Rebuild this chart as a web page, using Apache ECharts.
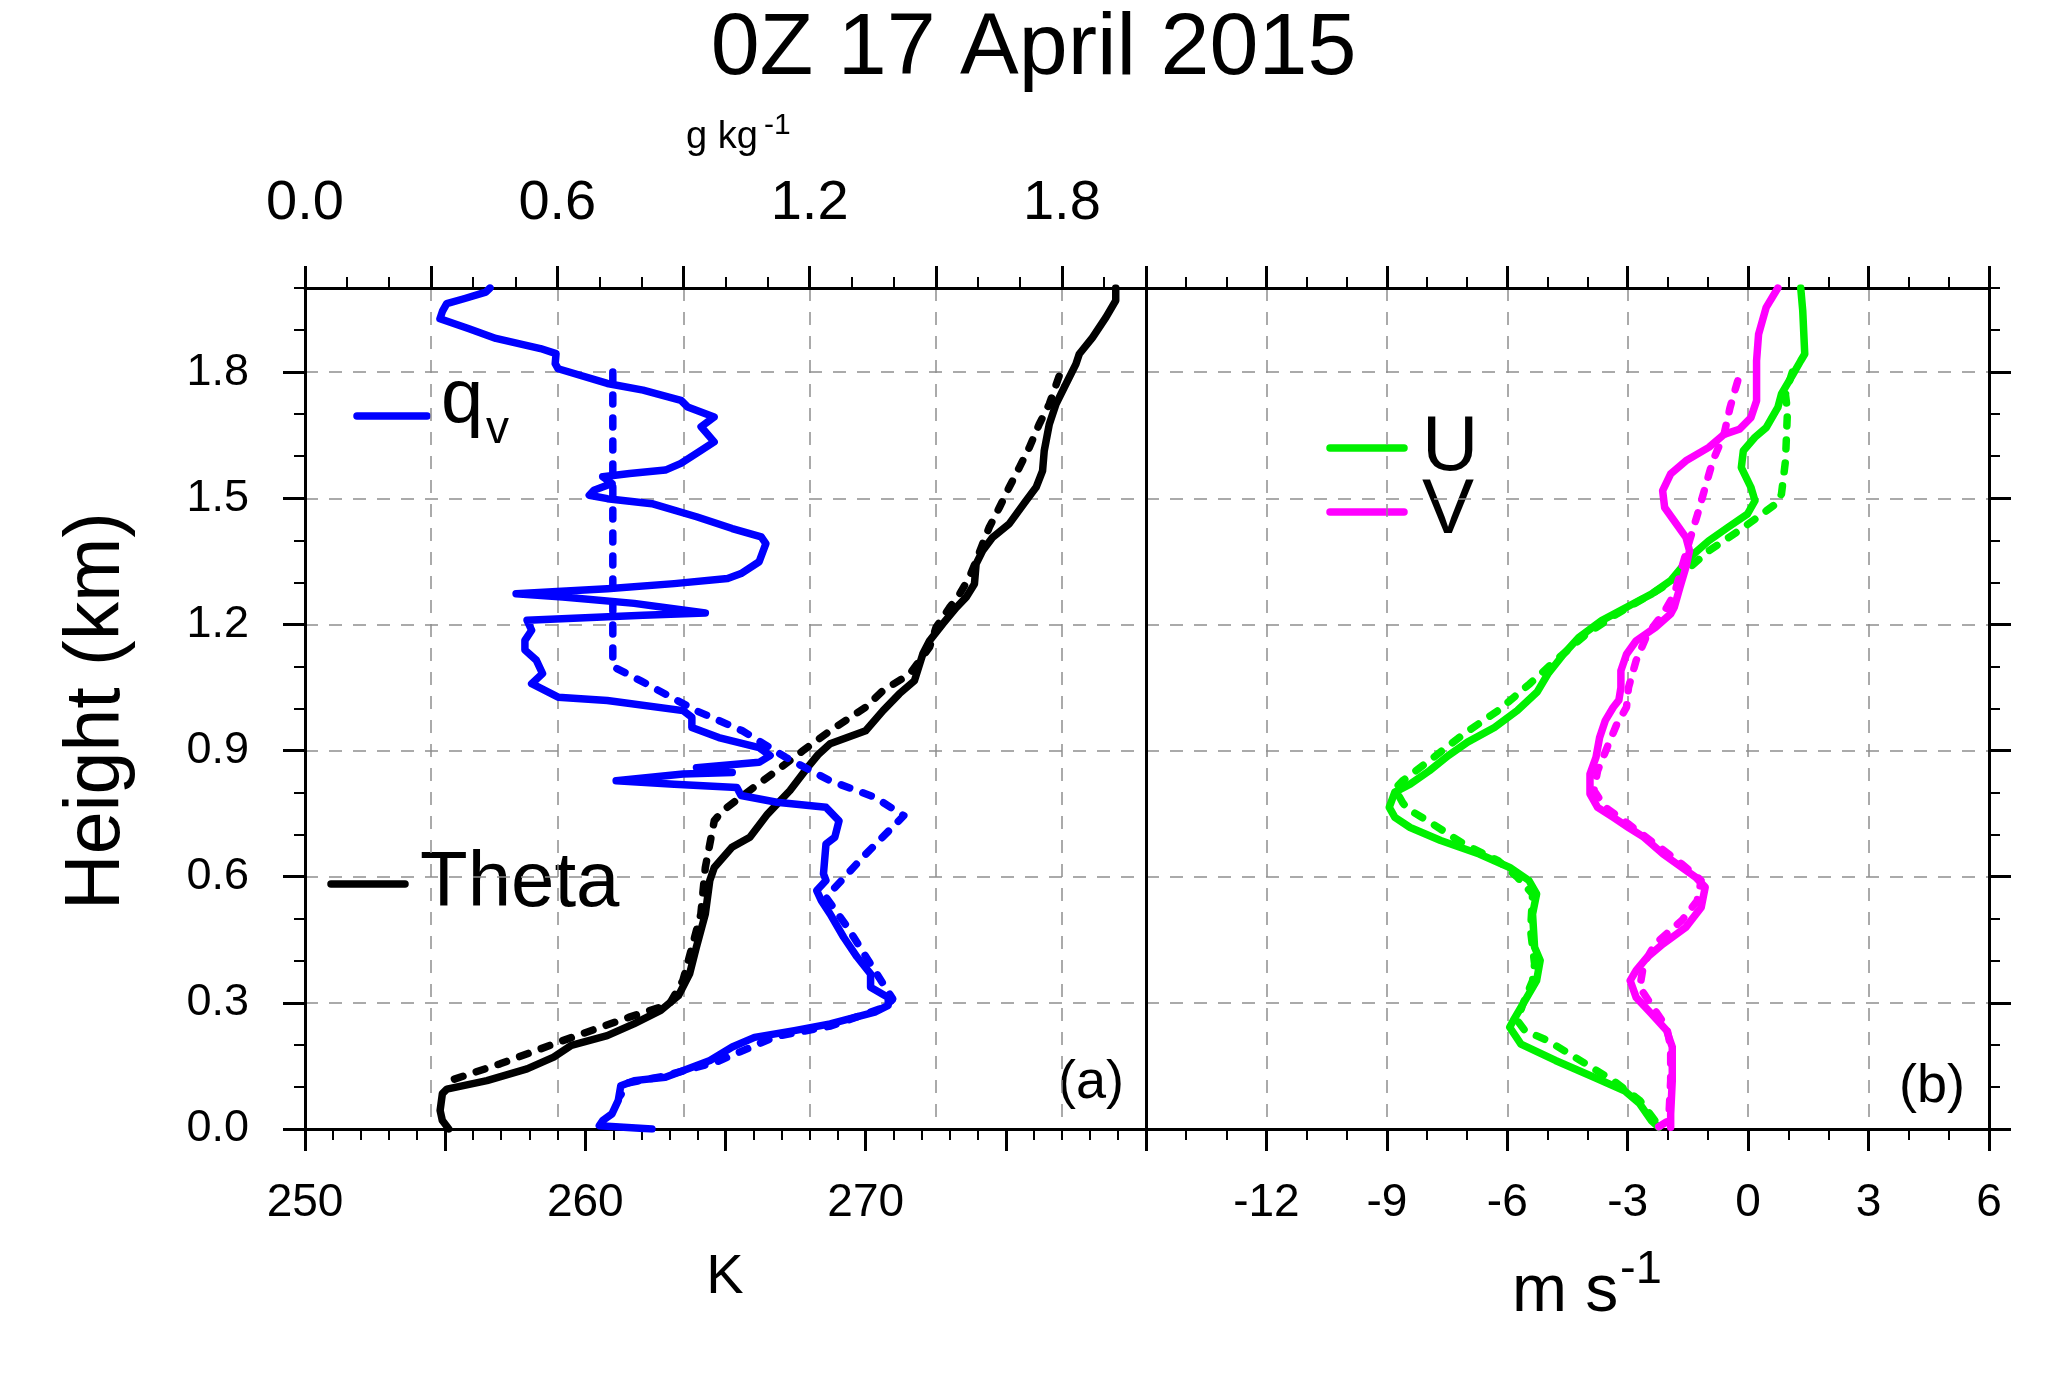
<!DOCTYPE html>
<html>
<head>
<meta charset="utf-8">
<title>0Z 17 April 2015</title>
<script src="https://cdn.jsdelivr.net/npm/echarts@6/dist/echarts.min.js"></script>
<style>
  html, body { margin: 0; padding: 0; background: #fff; }
  #chart { width: 2067px; height: 1375px; }
</style>
</head>
<body>
<div id="chart"></div>
<script>
// profiles: [value, height (km)], top -> bottom
const qvObs = [[0.44,2.0],[0.43,1.99],[0.38,1.975],[0.337,1.963],[0.327,1.945],[0.321,1.927],[0.39,1.903],[0.454,1.88],[0.56,1.856],[0.597,1.844],[0.595,1.82],[0.602,1.808],[0.719,1.773],[0.804,1.757],[0.894,1.733],[0.91,1.717],[0.973,1.693],[0.942,1.67],[0.973,1.634],[0.942,1.614],[0.894,1.583],[0.857,1.567],[0.772,1.559],[0.708,1.551],[0.73,1.535],[0.687,1.519],[0.676,1.507],[0.719,1.499],[0.825,1.487],[0.931,1.456],[1.016,1.428],[1.085,1.408],[1.096,1.392],[1.08,1.349],[1.037,1.321],[1.005,1.309],[0.878,1.297],[0.719,1.285],[0.502,1.273],[0.613,1.265],[0.783,1.25],[0.952,1.227],[0.804,1.222],[0.528,1.21],[0.539,1.186],[0.523,1.162],[0.523,1.139],[0.55,1.115],[0.565,1.083],[0.539,1.059],[0.602,1.027],[0.719,1.019],[0.899,0.995],[0.92,0.979],[0.92,0.955],[0.984,0.931],[1.08,0.907],[1.106,0.888],[1.08,0.872],[0.931,0.859],[1.016,0.848],[0.899,0.844],[0.74,0.828],[0.878,0.82],[1.027,0.812],[1.037,0.793],[1.122,0.777],[1.239,0.765],[1.27,0.733],[1.26,0.694],[1.239,0.678],[1.233,0.607],[1.239,0.591],[1.217,0.567],[1.228,0.543],[1.249,0.511],[1.281,0.456],[1.313,0.409],[1.345,0.369],[1.345,0.337],[1.387,0.313],[1.387,0.294],[1.355,0.278],[1.249,0.25],[1.164,0.234],[1.069,0.218],[1.016,0.195],[0.963,0.163],[0.889,0.135],[0.857,0.123],[0.783,0.115],[0.751,0.103],[0.745,0.068],[0.73,0.036],[0.708,0.02],[0.70,0.008],[0.825,0.0]];
const qvMod = [[0.732,1.8],[0.732,1.1],[0.80,1.065],[0.93,0.995],[1.04,0.947],[1.143,0.884],[1.249,0.828],[1.355,0.789],[1.424,0.745],[1.33,0.65],[1.239,0.551],[1.29,0.48],[1.34,0.40],[1.398,0.309],[1.38,0.29],[1.25,0.245],[1.12,0.22],[0.98,0.16],[0.85,0.125],[0.77,0.11],[0.75,0.08]];
const thetaObs = [[278.92,2.0],[278.92,1.97],[278.57,1.93],[278.09,1.882],[277.62,1.843],[277.5,1.819],[277.14,1.771],[276.79,1.724],[276.55,1.676],[276.37,1.613],[276.31,1.565],[276.08,1.526],[275.72,1.494],[275.12,1.439],[274.53,1.407],[274.17,1.375],[273.94,1.344],[273.88,1.296],[273.58,1.264],[273.23,1.24],[272.75,1.201],[272.28,1.161],[272.04,1.13],[271.74,1.066],[271.2,1.035],[270.62,0.995],[270.0,0.947],[268.73,0.916],[268.3,0.89],[267.93,0.86],[267.3,0.805],[266.5,0.749],[265.87,0.694],[265.23,0.67],[264.6,0.622],[264.44,0.591],[264.28,0.511],[263.96,0.432],[263.72,0.369],[263.32,0.317],[262.69,0.282],[261.73,0.25],[260.78,0.222],[259.5,0.199],[258.87,0.171],[257.92,0.143],[256.49,0.115],[255.06,0.095],[254.9,0.084],[254.82,0.044],[254.9,0.02],[255.13,0.0]];
const thetaMod = [[276.9,1.79],[276.55,1.724],[276.19,1.676],[275.84,1.621],[275.48,1.573],[275.12,1.526],[274.77,1.478],[274.41,1.431],[274.17,1.391],[273.94,1.351],[273.7,1.312],[273.35,1.272],[272.99,1.24],[272.51,1.193],[272.28,1.146],[271.57,1.082],[270.61,1.042],[270.0,1.003],[268.73,0.947],[267.77,0.9],[266.82,0.852],[265.7,0.797],[264.9,0.757],[264.6,0.733],[264.28,0.622],[264.12,0.511],[263.8,0.432],[263.48,0.353],[263.0,0.297],[261.57,0.266],[259.19,0.21],[256.96,0.155],[255.3,0.118],[255.0,0.105]];
const uObs = [[1.31,2.0],[1.36,1.946],[1.41,1.843],[1.31,1.827],[1.12,1.795],[0.83,1.748],[0.74,1.716],[0.45,1.668],[0.17,1.645],[-0.12,1.613],[-0.17,1.573],[0.07,1.526],[0.17,1.494],[-0.02,1.462],[-0.5,1.431],[-0.98,1.399],[-1.36,1.367],[-1.65,1.336],[-1.93,1.304],[-2.41,1.272],[-2.89,1.248],[-3.65,1.209],[-4.22,1.169],[-4.6,1.129],[-4.99,1.082],[-5.25,1.04],[-5.75,0.995],[-6.32,0.955],[-6.99,0.92],[-7.47,0.888],[-7.94,0.852],[-8.42,0.82],[-8.8,0.801],[-8.94,0.765],[-8.8,0.741],[-8.42,0.717],[-7.66,0.686],[-6.7,0.654],[-5.94,0.622],[-5.46,0.591],[-5.27,0.559],[-5.37,0.511],[-5.32,0.432],[-5.18,0.401],[-5.27,0.353],[-5.56,0.305],[-5.85,0.258],[-5.94,0.242],[-5.66,0.202],[-4.8,0.163],[-3.84,0.123],[-3.08,0.091],[-2.7,0.06],[-2.41,0.02],[-2.22,0.004]];
const uMod = [[1.1,1.8],[0.93,1.747],[0.98,1.708],[0.93,1.589],[0.83,1.51],[0.74,1.49],[0.45,1.47],[-0.12,1.43],[-0.98,1.375],[-1.74,1.312],[-2.41,1.272],[-3.27,1.225],[-4.03,1.177],[-4.8,1.114],[-5.45,1.058],[-6.23,0.995],[-7.09,0.939],[-7.94,0.876],[-8.61,0.828],[-8.8,0.809],[-8.6,0.775],[-8.47,0.761],[-7.85,0.725],[-7.09,0.678],[-6.23,0.638],[-5.75,0.599],[-5.37,0.559],[-5.42,0.472],[-5.32,0.393],[-5.37,0.353],[-5.6,0.30],[-5.75,0.258],[-5.56,0.234],[-4.99,0.21],[-4.32,0.171],[-3.36,0.115],[-2.7,0.068],[-2.32,0.02],[-2.13,0.004]];
const vObs = [[0.74,2.0],[0.45,1.954],[0.26,1.89],[0.21,1.827],[0.21,1.732],[0.07,1.692],[-0.22,1.664],[-0.6,1.652],[-0.98,1.621],[-1.55,1.589],[-1.93,1.558],[-2.13,1.518],[-2.08,1.478],[-1.84,1.446],[-1.55,1.407],[-1.46,1.375],[-1.55,1.336],[-1.7,1.288],[-1.84,1.241],[-1.93,1.225],[-2.31,1.193],[-2.79,1.161],[-3.03,1.129],[-3.17,1.09],[-3.17,1.05],[-3.22,1.02],[-3.36,1.003],[-3.56,0.971],[-3.7,0.931],[-3.79,0.884],[-3.94,0.844],[-3.94,0.797],[-3.75,0.765],[-3.36,0.741],[-2.98,0.717],[-2.6,0.694],[-2.12,0.654],[-1.65,0.622],[-1.31,0.599],[-1.07,0.575],[-1.17,0.527],[-1.55,0.48],[-2.12,0.44],[-2.51,0.409],[-2.79,0.377],[-2.94,0.353],[-2.79,0.313],[-2.41,0.274],[-2.03,0.234],[-1.89,0.195],[-1.89,0.115],[-1.93,0.036],[-1.93,0.004]];
const vMod = [[-0.26,1.779],[-0.45,1.716],[-0.6,1.652],[-0.88,1.589],[-1.07,1.526],[-1.26,1.462],[-1.46,1.399],[-1.65,1.336],[-1.84,1.272],[-2.12,1.225],[-2.51,1.177],[-2.79,1.114],[-2.98,1.05],[-3.03,1.003],[-3.27,0.963],[-3.51,0.908],[-3.75,0.852],[-3.84,0.805],[-3.56,0.765],[-2.98,0.725],[-2.32,0.678],[-1.65,0.63],[-1.17,0.591],[-1.27,0.543],[-1.65,0.496],[-2.32,0.44],[-2.6,0.393],[-2.7,0.337],[-2.32,0.282],[-2.03,0.242],[-1.93,0.195],[-1.93,0.115],[-1.98,0.02],[-2.32,0.0]];

// tick values
const heightTicks = [0, 0.3, 0.6, 0.9, 1.2, 1.5, 1.8];
const qvTicks = [0, 0.3, 0.6, 0.9, 1.2, 1.5, 1.8];
const qvLabels = [0, 0.6, 1.2, 1.8];
const thetaLabels = [250, 260, 270];
const windLabels = [-12, -9, -6, -3, 0, 3, 6];

const FONT = '"Liberation Sans", Arial, Helvetica, sans-serif';
const LW = 7.5;
const gridDash = { color: '#8f8f8f', width: 1.5, type: [13, 11] };
const axisLine = { show: true, onZero: false, lineStyle: { color: '#000', width: 3 } };
const majorTick = { show: true, length: 22, lineStyle: { color: '#000', width: 3 } };
const minorTickAxis = (extra) => Object.assign({
  min: 0, max: 2, interval: 0.1, type: 'value',
  axisLine: { show: false, onZero: false },
  axisTick: { show: true, length: 11, lineStyle: { color: '#000', width: 2 } },
  axisLabel: { show: false },
  splitLine: { show: false }
}, extra);
const near = (v, list) => list.some(t => Math.abs(t - v) < 1e-6);

function line(name, data, xi, yi, color, dashed) {
  return {
    name: name, type: 'line', data: data,
    xAxisIndex: xi, yAxisIndex: yi,
    symbol: 'none', showSymbol: false, silent: true, clip: true,
    lineStyle: { color: color, width: LW, cap: 'round', join: 'round', type: dashed ? [9, 14] : 'solid' }
  };
}

const chart = echarts.init(document.getElementById('chart'));
chart.setOption({
  animation: false,
  backgroundColor: '#fff',
  title: {
    text: '0Z 17 April 2015', left: 'center', top: 6, padding: 0,
    textStyle: { fontSize: 88, fontWeight: 'normal', color: '#000', fontFamily: FONT }
  },
  grid: [
    { left: 305, top: 288, width: 841, height: 841 },
    { left: 1146, top: 288, width: 843, height: 841 }
  ],
  xAxis: [
    { // 0: theta, bottom of (a)
      type: 'value', gridIndex: 0, position: 'bottom', min: 250, max: 280, interval: 5,
      axisLine: axisLine, axisTick: majorTick,
      minorTick: { show: true, splitNumber: 5, length: 11, lineStyle: { color: '#000', width: 2 } },
      axisLabel: { margin: 51, fontSize: 46, color: '#000', fontFamily: FONT,
        formatter: v => near(v, thetaLabels) ? String(v) : '' },
      splitLine: { show: false }
    },
    { // 1: qv, top of (a)
      type: 'value', gridIndex: 0, position: 'top', min: 0, max: 2, interval: 0.3,
      axisLine: axisLine,
      axisTick: Object.assign({ customValues: qvTicks }, majorTick),
      axisLabel: { margin: 56, fontSize: 56, color: '#000', fontFamily: FONT,
        formatter: v => near(v, qvLabels) ? v.toFixed(1) : '' },
      splitLine: { show: true, lineStyle: gridDash }
    },
    minorTickAxis({ gridIndex: 0, position: 'top' }), // 2
    { // 3: wind, bottom of (b)
      type: 'value', gridIndex: 1, position: 'bottom', min: -15, max: 6, interval: 3,
      axisLine: axisLine, axisTick: majorTick,
      minorTick: { show: true, splitNumber: 3, length: 11, lineStyle: { color: '#000', width: 2 } },
      axisLabel: { margin: 51, fontSize: 46, color: '#000', fontFamily: FONT,
        formatter: v => near(v, windLabels) ? String(v) : '' },
      splitLine: { show: true, lineStyle: gridDash }
    },
    { // 4: top of (b), ticks only
      type: 'value', gridIndex: 1, position: 'top', min: -15, max: 6, interval: 3,
      axisLine: axisLine, axisTick: majorTick,
      minorTick: { show: true, splitNumber: 3, length: 11, lineStyle: { color: '#000', width: 2 } },
      axisLabel: { show: false }, splitLine: { show: false }
    }
  ],
  yAxis: [
    { // 0: height, left of (a)
      type: 'value', gridIndex: 0, position: 'left', min: 0, max: 2, interval: 0.3,
      axisLine: axisLine,
      axisTick: Object.assign({ customValues: heightTicks }, majorTick),
      axisLabel: { margin: 56, fontSize: 45, color: '#000', fontFamily: FONT,
        formatter: v => near(v, heightTicks) ? v.toFixed(1) : '' },
      splitLine: { show: true, lineStyle: gridDash }
    },
    minorTickAxis({ gridIndex: 0, position: 'left' }), // 1
    { // 2: divider line, left of (b)
      type: 'value', gridIndex: 1, position: 'left', min: 0, max: 2, interval: 0.3,
      axisLine: axisLine, axisTick: { show: false }, axisLabel: { show: false },
      splitLine: { show: true, lineStyle: gridDash }
    },
    { // 3: right of (b)
      type: 'value', gridIndex: 1, position: 'right', min: 0, max: 2, interval: 0.3,
      axisLine: axisLine,
      axisTick: Object.assign({ customValues: heightTicks }, majorTick),
      axisLabel: { show: false }, splitLine: { show: false }
    },
    minorTickAxis({ gridIndex: 1, position: 'right' }) // 4
  ],
  series: [
    line('Theta', thetaObs, 0, 0, '#000000', false),
    line('Theta model', thetaMod, 0, 0, '#000000', true),
    line('qv', qvObs, 1, 0, '#0000ff', false),
    line('qv model', qvMod, 1, 0, '#0000ff', true),
    line('U', uObs, 3, 2, '#00f000', false),
    line('U model', uMod, 3, 2, '#00f000', true),
    line('V', vObs, 3, 2, '#ff00ff', false),
    line('V model', vMod, 3, 2, '#ff00ff', true)
  ],
  graphic: [
    // legend (a)
    { type: 'line', shape: { x1: 357, y1: 416, x2: 427, y2: 416 }, style: { stroke: '#0000ff', lineWidth: LW, lineCap: 'round' } },
    { type: 'text', x: 441, y: 401, style: { text: 'q', font: '76px ' + FONT, fill: '#000', verticalAlign: 'middle', textVerticalAlign: 'middle' } },
    { type: 'text', x: 486, y: 430, style: { text: 'v', font: '46px ' + FONT, fill: '#000', verticalAlign: 'middle', textVerticalAlign: 'middle' } },
    { type: 'line', shape: { x1: 331, y1: 884, x2: 405, y2: 884 }, style: { stroke: '#000', lineWidth: LW, lineCap: 'round' } },
    { type: 'text', x: 420, y: 884, style: { text: 'Theta', font: '78px ' + FONT, fill: '#000', verticalAlign: 'middle', textVerticalAlign: 'middle' } },
    // legend (b)
    { type: 'line', shape: { x1: 1330, y1: 448, x2: 1404, y2: 448 }, style: { stroke: '#00f000', lineWidth: LW, lineCap: 'round' } },
    { type: 'text', x: 1422, y: 448, style: { text: 'U', font: '78px ' + FONT, fill: '#000', verticalAlign: 'middle', textVerticalAlign: 'middle' } },
    { type: 'line', shape: { x1: 1330, y1: 512, x2: 1404, y2: 512 }, style: { stroke: '#ff00ff', lineWidth: LW, lineCap: 'round' } },
    { type: 'text', x: 1422, y: 511, style: { text: 'V', font: '78px ' + FONT, fill: '#000', verticalAlign: 'middle', textVerticalAlign: 'middle' } },
    // panel tags
    { type: 'text', x: 1124, y: 1083, style: { text: '(a)', font: '54px ' + FONT, fill: '#000', align: 'right', textAlign: 'right', verticalAlign: 'middle', textVerticalAlign: 'middle' } },
    { type: 'text', x: 1965, y: 1087, style: { text: '(b)', font: '54px ' + FONT, fill: '#000', align: 'right', textAlign: 'right', verticalAlign: 'middle', textVerticalAlign: 'middle' } },
    // axis titles
    { type: 'text', x: 98, y: 711, rotation: Math.PI / 2, style: { text: 'Height (km)', font: '77px ' + FONT, fill: '#000', align: 'center', textAlign: 'center', verticalAlign: 'middle', textVerticalAlign: 'middle' } },
    { type: 'text', x: 725, y: 1278, style: { text: 'K', font: '56px ' + FONT, fill: '#000', align: 'center', textAlign: 'center', verticalAlign: 'middle', textVerticalAlign: 'middle' } },
    { type: 'text', x: 1512, y: 1293, style: { text: 'm s', font: '66px ' + FONT, fill: '#000', verticalAlign: 'middle', textVerticalAlign: 'middle' } },
    { type: 'text', x: 1620, y: 1270, style: { text: '-1', font: '47px ' + FONT, fill: '#000', verticalAlign: 'middle', textVerticalAlign: 'middle' } },
    { type: 'text', x: 686, y: 138, style: { text: 'g kg', font: '38px ' + FONT, fill: '#000', verticalAlign: 'middle', textVerticalAlign: 'middle' } },
    { type: 'text', x: 764, y: 126, style: { text: '-1', font: '30px ' + FONT, fill: '#000', verticalAlign: 'middle', textVerticalAlign: 'middle' } }
  ]
});
</script>
</body>
</html>
